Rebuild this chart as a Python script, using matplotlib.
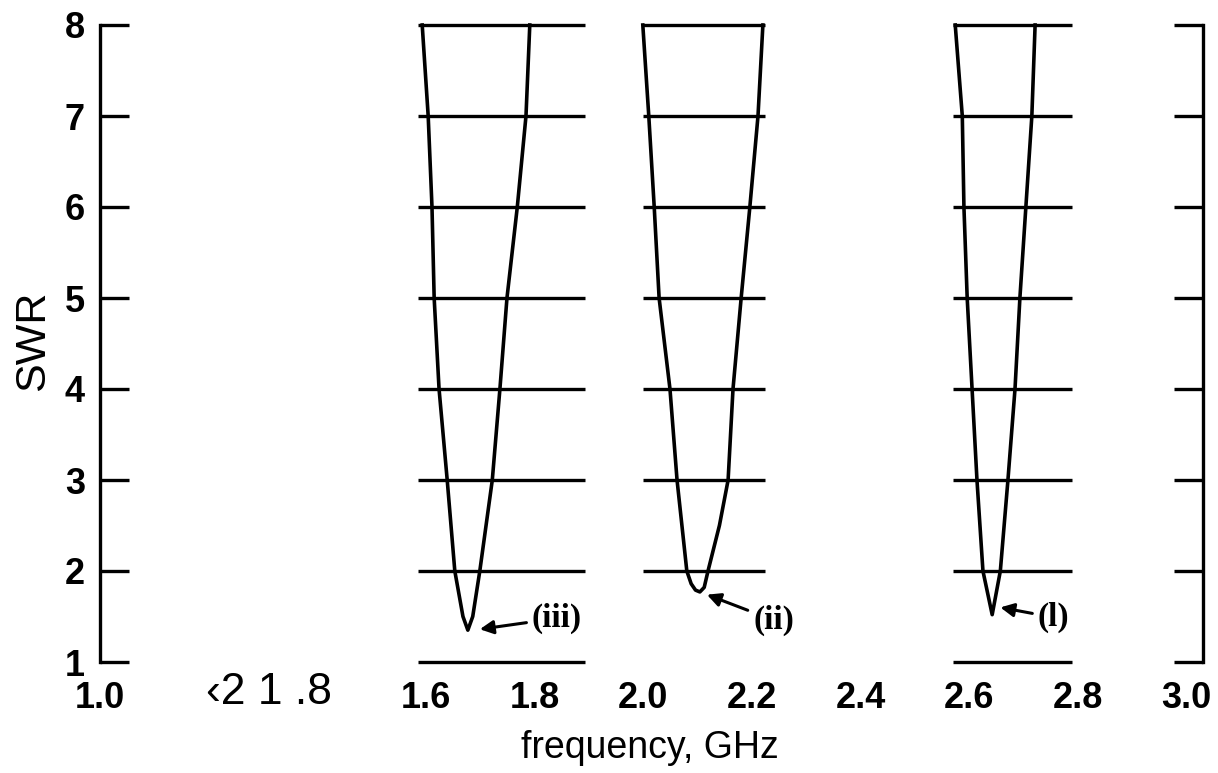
import matplotlib
matplotlib.use('Agg')
from matplotlib import pyplot as plt

# curve (iii)
x_iii = [1.593, 1.604, 1.611, 1.615, 1.624, 1.639, 1.653, 1.668, 1.677, 1.686, 1.699, 1.722, 1.736, 1.749, 1.768, 1.784, 1.791]
y_iii = [8, 7, 6, 5, 4, 3, 2, 1.5, 1.35, 1.5, 2, 3, 4, 5, 6, 7, 8]
# curve (ii)
x_ii = [1.999, 2.010, 2.020, 2.029, 2.049, 2.062, 2.080, 2.088, 2.096, 2.104, 2.112, 2.119, 2.140, 2.156, 2.165, 2.180, 2.196, 2.211, 2.220]
y_ii = [8, 7, 6, 5, 4, 3, 2, 1.86, 1.79, 1.77, 1.82, 2, 2.5, 3, 4, 5, 6, 7, 8]
# curve (i)
x_i = [2.574, 2.587, 2.590, 2.596, 2.605, 2.614, 2.625, 2.642, 2.657, 2.671, 2.684, 2.693, 2.704, 2.715, 2.721]
y_i = [8, 7, 6, 5, 4, 3, 2, 1.52, 2, 3, 4, 5, 6, 7, 8]

swr_levels = [1, 2, 3, 4, 5, 6, 7, 8]
xtick_vals = [1.0, 1.6, 1.8, 2.0, 2.2, 2.4, 2.6, 2.8, 3.0]
xtick_labels = ['1.0', '1.6', '1.8', '2.0', '2.2', '2.4', '2.6', '2.8', '3.0']

fig = plt.figure(figsize=(12.18, 7.73), dpi=100)
ax = fig.add_axes([100/1218, 111/773, 1103/1218, 637/773])
ax.set_xlim(1.0, 3.03)
ax.set_ylim(1, 8)

# grid strips that survived in the scan
ax.hlines(swr_levels, 1.585, 1.893, color='black', lw=2.4, clip_on=False)
ax.hlines(swr_levels[1:], 1.999, 2.223, color='black', lw=2.4, clip_on=False)
ax.hlines(swr_levels, 2.570, 2.789, color='black', lw=2.4, clip_on=False)

for xs, ys in [(x_iii, y_iii), (x_ii, y_ii), (x_i, y_i)]:
    ax.plot(xs, ys, color='black', lw=2.6, clip_on=False, solid_joinstyle='round')

arrow = dict(arrowstyle='-|>', color='black', lw=2.2, mutation_scale=20, shrinkA=2, shrinkB=0)
lab_font = dict(family='Liberation Serif', fontsize=24, fontweight='bold', ha='left', va='center')
ax.annotate('(iii)', xy=(1.699, 1.36), xytext=(1.795, 1.48), arrowprops=arrow, **lab_font)
ax.annotate('(ii)', xy=(2.117, 1.74), xytext=(2.202, 1.46), arrowprops=arrow, **lab_font)
ax.annotate('(l)', xy=(2.657, 1.60), xytext=(2.726, 1.49), arrowprops=arrow, **lab_font)

ax.spines['top'].set_visible(False)
ax.spines['bottom'].set_visible(False)
ax.spines['left'].set_linewidth(2.4)
ax.spines['right'].set_linewidth(2.4)

ax.set_yticks(swr_levels)
ax.set_yticklabels([str(v) for v in swr_levels], fontfamily='Liberation Sans', fontweight='bold', fontsize=26)
ax.tick_params(axis='y', direction='in', length=21, width=2.4, left=True, right=True, pad=11)

ax.set_xticks(xtick_vals)
ax.set_xticklabels(xtick_labels, fontfamily='Liberation Sans', fontweight='bold', fontsize=26)
ax.tick_params(axis='x', length=0, pad=14)

fig.text(269/1218, 1-692/773, '‹2 1 .8', fontfamily='Liberation Sans', fontsize=32, ha='center', va='center')
fig.text(650/1218, 1-748/773, 'frequency, GHz', fontfamily='Liberation Sans', fontsize=27, ha='center', va='center')
fig.text(33/1218, 1-341/773, 'SWR', fontfamily='Liberation Sans', fontsize=31, rotation=90, ha='center', va='center')

plt.savefig('out.png', dpi=100)
